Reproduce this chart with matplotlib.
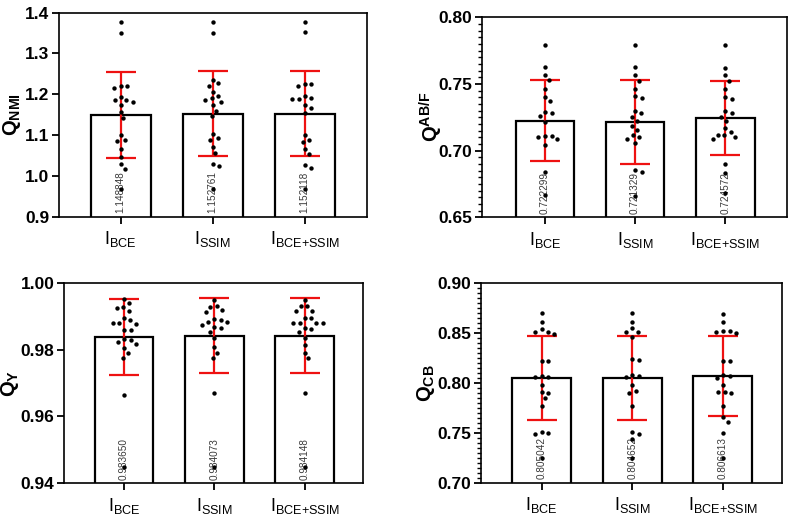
import numpy as np
import matplotlib
matplotlib.use("Agg")
import matplotlib.pyplot as plt
from matplotlib.ticker import MultipleLocator, FormatStrFormatter

plt.rcParams['font.family'] = ['Liberation Sans', 'DejaVu Sans']
plt.rcParams['mathtext.fontset'] = 'custom'
plt.rcParams['mathtext.rm'] = 'Liberation Sans'
plt.rcParams['mathtext.it'] = 'Liberation Sans:italic'
plt.rcParams['mathtext.bf'] = 'Liberation Sans:bold'

# ---------------- data ----------------
categories = [r'$\mathrm{I}_{\mathrm{BCE}}$', r'$\mathrm{I}_{\mathrm{SSIM}}$',
              r'$\mathrm{I}_{\mathrm{BCE{+}SSIM}}$']

nmi_mean = [1.148848, 1.152761, 1.152118]
nmi_sd = [0.1046, 0.1034, 0.1046]
nmi_bce = [1.376, 1.351, 1.221, 1.221, 1.216, 1.194, 1.186, 1.186, 1.180, 1.173, 1.156,
           1.141, 1.100, 1.088, 1.086, 1.065, 1.047, 1.029, 1.017, 0.969]
nmi_ssim = [1.376, 1.351, 1.235, 1.227, 1.221, 1.206, 1.197, 1.190, 1.186, 1.182, 1.173,
            1.159, 1.147, 1.103, 1.092, 1.088, 1.070, 1.055, 1.029, 1.025, 0.969]
nmi_both = [1.376, 1.353, 1.225, 1.225, 1.220, 1.196, 1.192, 1.188, 1.188, 1.173, 1.166,
            1.153, 1.100, 1.088, 1.084, 1.066, 1.053, 1.027, 1.020, 0.969]

abf_mean = [0.722299, 0.721329, 0.724572]
abf_sd = [0.0304, 0.0314, 0.0275]
abf_bce = [0.7795, 0.763, 0.757, 0.753, 0.746, 0.740, 0.737, 0.729, 0.7285, 0.726, 0.7215,
           0.711, 0.711, 0.7105, 0.7085, 0.704, 0.684, 0.667]
abf_ssim = [0.779, 0.763, 0.7565, 0.7525, 0.746, 0.741, 0.7395, 0.730, 0.728, 0.7255, 0.722,
            0.7185, 0.7155, 0.712, 0.710, 0.709, 0.706, 0.6855, 0.684, 0.666]
abf_both = [0.7795, 0.762, 0.7565, 0.7525, 0.746, 0.740, 0.739, 0.7295, 0.7285, 0.7255, 0.722,
            0.717, 0.714, 0.712, 0.712, 0.710, 0.7085, 0.690, 0.6835, 0.668]

qy_mean = [0.983650, 0.984073, 0.984148]
qy_sd = [0.01137, 0.0112, 0.01126]
qy_bce = [0.9950, 0.9938, 0.9928, 0.9923, 0.9916, 0.9893, 0.9888, 0.9878, 0.9878, 0.9876,
          0.9858, 0.9858, 0.9832, 0.9829, 0.9824, 0.9817, 0.9804, 0.9789, 0.9776, 0.9664, 0.9450]
qy_ssim = [0.9948, 0.9930, 0.9928, 0.9918, 0.9913, 0.9890, 0.9888, 0.9883, 0.9881, 0.9873,
           0.9867, 0.9863, 0.9853, 0.9834, 0.9807, 0.9789, 0.9774, 0.9671, 0.9450]
qy_both = [0.9948, 0.9930, 0.9930, 0.9916, 0.9916, 0.9893, 0.9893, 0.9880, 0.9880, 0.9878,
           0.9878, 0.9863, 0.9860, 0.9851, 0.9834, 0.9814, 0.9791, 0.9774, 0.9669, 0.9450]

cb_mean = [0.805042, 0.804652, 0.806613]
cb_sd = [0.0420, 0.0423, 0.0398]
cb_bce = [0.8693, 0.861, 0.8533, 0.851, 0.851, 0.8487, 0.822, 0.822, 0.8067, 0.806, 0.8053,
          0.7973, 0.7903, 0.790, 0.7843, 0.777, 0.751, 0.750, 0.7483, 0.7243]
cb_ssim = [0.8693, 0.861, 0.8543, 0.851, 0.851, 0.8453, 0.8233, 0.8227, 0.8077, 0.8067, 0.8053,
           0.7973, 0.7917, 0.7893, 0.777, 0.7503, 0.7487, 0.7433, 0.725]
cb_both = [0.8687, 0.8603, 0.852, 0.8517, 0.851, 0.8493, 0.822, 0.822, 0.8077, 0.8067, 0.805,
           0.7973, 0.791, 0.791, 0.7893, 0.777, 0.7653, 0.761, 0.750, 0.725]

panels = [
    dict(rect=[0.0749, 0.5833, 0.3881, 0.3923], ylim=(0.9, 1.4), major=0.1, minor=None, fmt='%.1f',
         ylabel=r'$\mathbf{Q}_{\mathbf{NMI}}$', labx=-0.118, mean=nmi_mean, sd=nmi_sd,
         pts=[nmi_bce, nmi_ssim, nmi_both], xlim=(-0.667, 2.674)),
    dict(rect=[0.6082, 0.5821, 0.3851, 0.3846], ylim=(0.65, 0.80), major=0.05, minor=0.005, fmt='%.2f',
         ylabel=r'$\mathbf{Q}^{\mathbf{AB/F}}$', labx=-0.12, mean=abf_mean, sd=abf_sd,
         pts=[abf_bce, abf_ssim, abf_both], xlim=(-0.70, 2.68)),
    dict(rect=[0.0812, 0.0706, 0.3775, 0.3858], ylim=(0.94, 1.00), major=0.02, minor=None, fmt='%.2f',
         ylabel=r'$\mathbf{Q}_{\mathbf{Y}}$', labx=-0.146, mean=qy_mean, sd=qy_sd,
         pts=[qy_bce, qy_ssim, qy_both], xlim=(-0.66, 2.65)),
    dict(rect=[0.6073, 0.0717, 0.3797, 0.3846], ylim=(0.70, 0.90), major=0.05, minor=0.005, fmt='%.2f',
         ylabel=r'$\mathbf{Q}_{\mathbf{CB}}$', labx=-0.146, mean=cb_mean, sd=cb_sd,
         pts=[cb_bce, cb_ssim, cb_both], xlim=(-0.67, 2.65)),
]

fig = plt.figure(figsize=(7.92, 5.2), dpi=100)


def swarm(ax, xc, vals, d_px=6.6):
    """Beeswarm offsets (in data x units) computed in display space."""
    disp = ax.transData.transform(np.column_stack([np.full(len(vals), xc), vals]))
    ys = disp[:, 1]
    order = np.argsort(-np.asarray(vals), kind='stable')
    placed = []
    offs = np.zeros(len(vals))
    cands = [0.0]
    for k in range(1, 200):
        cands += [k * 0.25, -k * 0.25]
    for i in order:
        for c in cands:
            ok = all((c - px) ** 2 + (ys[i] - py) ** 2 >= d_px ** 2 for px, py in placed)
            if ok:
                offs[i] = c
                placed.append((c, ys[i]))
                break
    sx = ax.transData.transform((1, 0))[0] - ax.transData.transform((0, 0))[0]
    return xc + offs / sx


for p in panels:
    ax = fig.add_axes(p['rect'])
    x = np.arange(len(categories))
    ax.set_xlim(*p['xlim'])
    ax.set_ylim(*p['ylim'])
    ax.bar(x, p['mean'], width=0.65, color='white', edgecolor='black', linewidth=1.6, zorder=1)
    for xi, m in zip(x, p['mean']):
        ax.annotate(f'{m:.6f}', xy=(xi, p['ylim'][0]), xytext=(0, 2.5), textcoords='offset points',
                    rotation=90, ha='center', va='bottom', fontsize=7.2, color='#3a3a3a', zorder=2)
    ax.errorbar(x, p['mean'], yerr=p['sd'], fmt='none', ecolor='#ee1111', elinewidth=1.6,
                capsize=10.5, capthick=1.6, zorder=3)
    for xi, vals in zip(x, p['pts']):
        xs = swarm(ax, xi, vals)
        ax.scatter(xs, vals, s=10, color='black', zorder=4, linewidths=0)

    ax.yaxis.set_major_locator(MultipleLocator(p['major']))
    ax.yaxis.set_major_formatter(FormatStrFormatter(p['fmt']))
    if p['minor']:
        ax.yaxis.set_minor_locator(MultipleLocator(p['minor']))
        ax.tick_params(axis='y', which='minor', length=3, width=1.0)
    ax.tick_params(axis='y', which='major', direction='out', length=5, width=1.3, labelsize=12.5, pad=2)
    for lbl in ax.get_yticklabels():
        lbl.set_fontweight('bold')
    ax.set_xticks(x)
    ax.set_xticklabels(categories)
    ax.tick_params(axis='x', direction='out', length=5, width=1.3, labelsize=13, pad=4)
    for s in ax.spines.values():
        s.set_linewidth(1.2)
    ax.set_ylabel(p['ylabel'], fontsize=14.5)
    ax.yaxis.set_label_coords(p['labx'], 0.5)

fig.savefig('out.png', dpi=100)
